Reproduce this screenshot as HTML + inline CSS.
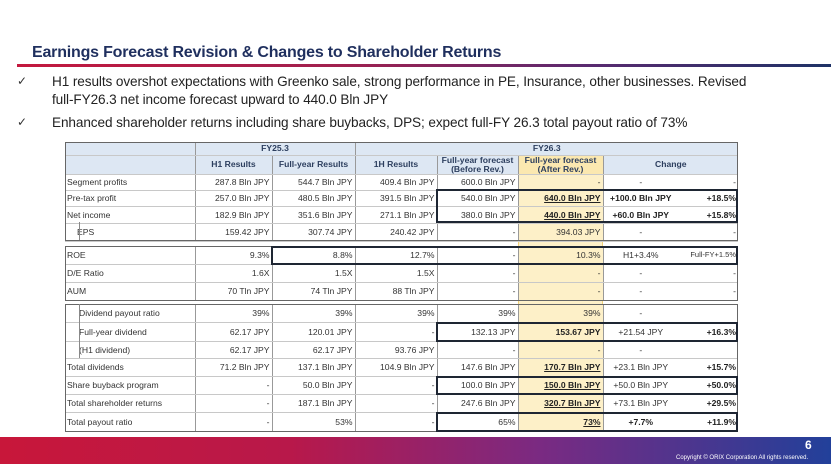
<!DOCTYPE html>
<html><head><meta charset="utf-8">
<style>
*{margin:0;padding:0;box-sizing:border-box}
body{width:831px;height:464px;overflow:hidden;background:#fff;font-family:"Liberation Sans",Arial,sans-serif;position:relative;color:#333}
.abs{position:absolute}
.title{left:32px;top:44px;font-size:16px;font-weight:bold;color:#1f2f5e;letter-spacing:-0.2px}
.tline{left:17px;top:64px;width:814px;height:3px;background:linear-gradient(90deg,#c3183e,#a0204f 40%,#5a2a70 70%,#1e3266)}
.b{font-size:13.6px;color:#222;left:52px;line-height:18px;letter-spacing:-0.1px}
.ck{font-size:12px;left:17px;color:#333}
table{position:absolute;left:65px;border-collapse:collapse;table-layout:fixed;font-size:8.6px;color:#333}
td{border-bottom:1px solid #c8c8c8;border-right:1px solid #999;text-align:right;padding:0 2px;white-space:nowrap;overflow:hidden}
td.l{text-align:left;padding-left:2px}
td.nb{border-right:none}
td.c{text-align:center;border-right:none}
tr.h td{background:#dde7f3;text-align:center;font-weight:bold;color:#2c3e5e;line-height:9px}
.bb{font-weight:bold;color:#222}
.u{text-decoration:underline;font-weight:bold;color:#222}
.box{position:absolute;border:2px solid #1e2633}
.yel{position:absolute;left:518px;width:85px;background:#fdf0c8;border-left:1px solid #f1d27a;border-right:1px solid #f1d27a}
.sec{position:absolute;left:65px;width:673px;border:1px solid #666}
</style></head><body>
<div class="abs title">Earnings Forecast Revision &amp; Changes to Shareholder Returns</div>
<div class="abs tline"></div>
<div class="abs ck" style="top:74px">✓</div>
<div class="abs b" style="top:73px">H1 results overshot expectations with Greenko sale, strong performance in PE, Insurance, other businesses. Revised<br>full-FY26.3 net income forecast upward to 440.0 Bln JPY</div>
<div class="abs ck" style="top:115px">✓</div>
<div class="abs b" style="top:114px">Enhanced shareholder returns including share buybacks, DPS; expect full-FY 26.3 total payout ratio of 73%</div>

<div class="yel" style="top:154px;height:278px"></div>

<table style="top:142px;width:673px">
<colgroup><col style="width:130px"><col style="width:77px"><col style="width:83px"><col style="width:82px"><col style="width:81px"><col style="width:85px"><col style="width:75px"><col style="width:60px"></colgroup>
<tr class="h" style="height:13px"><td></td><td colspan="2">FY25.3</td><td colspan="5" class="nb">FY26.3</td></tr>
<tr class="h" style="height:19px;border-top:1.5px solid #555"><td></td><td>H1 Results</td><td>Full-year Results</td><td>1H Results</td><td>Full-year forecast<br>(Before Rev.)</td><td style="background:#fbe8b0">Full-year forecast<br>(After Rev.)</td><td colspan="2" class="nb">Change</td></tr>
<tr style="height:16px"><td class="l">Segment profits</td><td>287.8 Bln JPY</td><td>544.7 Bln JPY</td><td>409.4 Bln JPY</td><td>600.0 Bln JPY</td><td style="background:#fdf0c8">-</td><td class="c">-</td><td class="nb">-</td></tr>
<tr style="height:16px"><td class="l">Pre-tax profit</td><td>257.0 Bln JPY</td><td>480.5 Bln JPY</td><td>391.5 Bln JPY</td><td>540.0 Bln JPY</td><td style="background:#fdf0c8"><span class="u">640.0 Bln JPY</span></td><td class="c bb">+100.0 Bln JPY</td><td class="nb bb">+18.5%</td></tr>
<tr style="height:17px"><td class="l">Net income</td><td>182.9 Bln JPY</td><td>351.6 Bln JPY</td><td>271.1 Bln JPY</td><td>380.0 Bln JPY</td><td style="background:#fdf0c8"><span class="u">440.0 Bln JPY</span></td><td class="c bb">+60.0 Bln JPY</td><td class="nb bb">+15.8%</td></tr>
<tr style="height:18px"><td class="l" style="padding-left:12px">EPS</td><td>159.42 JPY</td><td>307.74 JPY</td><td>240.42 JPY</td><td>-</td><td style="background:#fdf0c8">394.03 JPY</td><td class="c">-</td><td class="nb">-</td></tr>
</table>

<table style="top:246px;width:673px">
<colgroup><col style="width:130px"><col style="width:77px"><col style="width:83px"><col style="width:82px"><col style="width:81px"><col style="width:85px"><col style="width:75px"><col style="width:60px"></colgroup>
<tr style="height:18px"><td class="l">ROE</td><td>9.3%</td><td>8.8%</td><td>12.7%</td><td>-</td><td style="background:#fdf0c8">10.3%</td><td class="c">H1+3.4%</td><td class="nb" style="font-size:7.5px">Full-FY+1.5%</td></tr>
<tr style="height:18px"><td class="l">D/E Ratio</td><td>1.6X</td><td>1.5X</td><td>1.5X</td><td>-</td><td style="background:#fdf0c8">-</td><td class="c">-</td><td class="nb">-</td></tr>
<tr style="height:18px"><td class="l">AUM</td><td>70 Tln JPY</td><td>74 Tln JPY</td><td>88 Tln JPY</td><td>-</td><td style="background:#fdf0c8">-</td><td class="c">-</td><td class="nb">-</td></tr>
</table>

<table style="top:304px;width:673px">
<colgroup><col style="width:130px"><col style="width:77px"><col style="width:83px"><col style="width:82px"><col style="width:81px"><col style="width:85px"><col style="width:75px"><col style="width:60px"></colgroup>
<tr style="height:18px"><td class="l" style="padding-left:14px">Dividend payout ratio</td><td>39%</td><td>39%</td><td>39%</td><td>39%</td><td style="background:#fdf0c8">39%</td><td class="c">-</td><td class="nb"></td></tr>
<tr style="height:19px"><td class="l" style="padding-left:14px">Full-year dividend</td><td>62.17 JPY</td><td>120.01 JPY</td><td>-</td><td>132.13 JPY</td><td style="background:#fdf0c8" class="bb">153.67 JPY</td><td class="c">+21.54 JPY</td><td class="nb bb">+16.3%</td></tr>
<tr style="height:17px"><td class="l" style="padding-left:14px">(H1 dividend)</td><td>62.17 JPY</td><td>62.17 JPY</td><td>93.76 JPY</td><td>-</td><td style="background:#fdf0c8">-</td><td class="c">-</td><td class="nb"></td></tr>
<tr style="height:18px"><td class="l">Total dividends</td><td>71.2 Bln JPY</td><td>137.1 Bln JPY</td><td>104.9 Bln JPY</td><td>147.6 Bln JPY</td><td style="background:#fdf0c8"><span class="u">170.7 Bln JPY</span></td><td class="c">+23.1 Bln JPY</td><td class="nb bb">+15.7%</td></tr>
<tr style="height:18px"><td class="l">Share buyback program</td><td>-</td><td>50.0 Bln JPY</td><td>-</td><td>100.0 Bln JPY</td><td style="background:#fdf0c8"><span class="u">150.0 Bln JPY</span></td><td class="c">+50.0 Bln JPY</td><td class="nb bb">+50.0%</td></tr>
<tr style="height:18px"><td class="l">Total shareholder returns</td><td>-</td><td>187.1 Bln JPY</td><td>-</td><td>247.6 Bln JPY</td><td style="background:#fdf0c8"><span class="u">320.7 Bln JPY</span></td><td class="c">+73.1 Bln JPY</td><td class="nb bb">+29.5%</td></tr>
<tr style="height:19px"><td class="l">Total payout ratio</td><td>-</td><td>53%</td><td>-</td><td>65%</td><td style="background:#fdf0c8"><span class="u">73%</span></td><td class="c bb">+7.7%</td><td class="nb bb">+11.9%</td></tr>
</table>

<div class="sec" style="top:142px;height:99px"></div>
<div class="sec" style="top:246px;height:55px"></div>
<div class="sec" style="top:304px;height:128px"></div>
<div class="abs" style="left:79px;top:222px;width:1px;height:18px;background:#888"></div>
<div class="abs" style="left:79px;top:304px;width:1px;height:54px;background:#888"></div>

<div class="box" style="left:436px;top:189px;width:302px;height:34px"></div>
<div class="box" style="left:271px;top:246px;width:467px;height:19px"></div>
<div class="box" style="left:436px;top:322px;width:302px;height:20px"></div>
<div class="box" style="left:436px;top:376px;width:302px;height:19px"></div>
<div class="box" style="left:436px;top:412px;width:302px;height:20px"></div>

<div class="abs" style="left:0;top:437px;width:831px;height:27px;background:linear-gradient(90deg,#c8173a 0%,#b8184a 35%,#7a2a82 65%,#22409a 100%)"></div>
<div class="abs" style="left:805px;top:438px;color:#fff;font-size:12px;font-weight:bold">6</div>
<div class="abs" style="left:676px;top:455px;color:#fff;font-size:6px">Copyright © ORIX Corporation All rights reserved.</div>
</body></html>
